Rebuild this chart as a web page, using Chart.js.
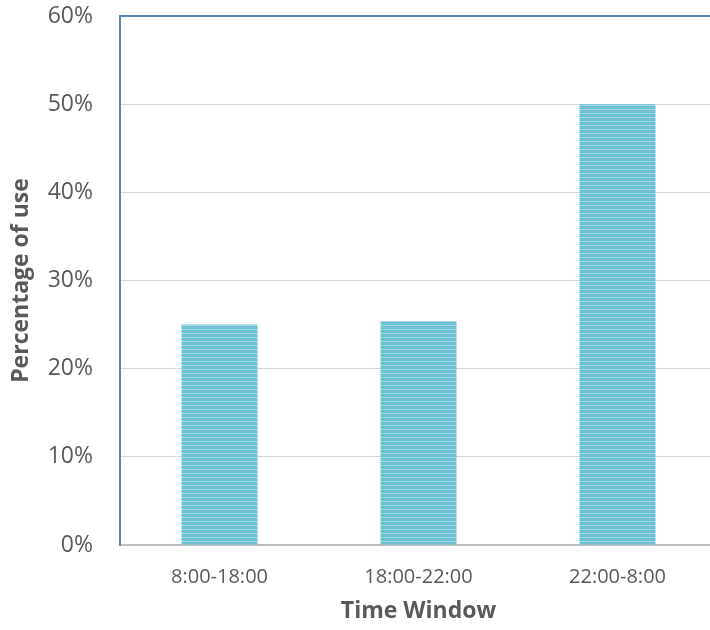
<!DOCTYPE html>
<html>
<head>
<meta charset="utf-8">
<script src="https://cdn.jsdelivr.net/npm/chart.js@4"></script>
<style>
  html, body { margin: 0; padding: 0; background: #fff; overflow: hidden; }
  #wrap { width: 717px; height: 630px; }
</style>
</head>
<body>
<div id="wrap"><canvas id="chart"></canvas></div>
<script>
const categories = ['8:00-18:00', '18:00-22:00', '22:00-8:00'];
const usage = [25, 25.4, 50];
const yTicks = [0, 10, 20, 30, 40, 50, 60];

// striped fill like the original bars
function stripes() {
  var c = document.createElement('canvas');
  c.width = 4; c.height = 4;
  var g = c.getContext('2d');
  g.fillStyle = '#5fc3d6'; g.fillRect(0, 0, 4, 4);
  g.fillStyle = '#a9d6e2'; g.fillRect(0, 1, 4, 1);
  g.fillStyle = '#82bcd0'; g.fillRect(0, 3, 4, 1);
  return g.createPattern(c, 'repeat');
}

var ctx = document.getElementById('chart').getContext('2d');
new Chart(ctx, {
  type: 'bar',
  data: {
    labels: categories,
    datasets: [{
      data: usage,
      backgroundColor: stripes(),
      borderWidth: 0,
      barPercentage: 0.382,
      categoryPercentage: 1
    }]
  },
  options: {
    responsive: true,
    maintainAspectRatio: false,
    animation: false,
    layout: { padding: 0 },
    plugins: { legend: { display: false }, tooltip: { enabled: false } },
    scales: {
      x: {
        afterFit: function(s) { s.height = 85; },
        grid: { display: false, drawTicks: false },
        border: { color: '#bfbfbf', width: 2 },
        ticks: { padding: 20, color: '#595959', font: { family: 'Open Sans', size: 20 } },
        title: {
          display: true, text: 'Time Window', color: '#595959',
          font: { family: 'Open Sans', size: 23, weight: 'bold' },
          padding: { top: 0, bottom: 5 }
        }
      },
      y: {
        min: 0, max: 60,
        afterFit: function(s) { s.width = 120; s.paddingTop = 16; },
        afterBuildTicks: function(s) { s.ticks = yTicks.map(function(v) { return { value: v }; }); },
        grid: {
          drawTicks: false,
          lineWidth: function(c) { return c.tick && c.tick.value === 60 ? 2 : 1; },
          color: function(c) { return c.tick && c.tick.value === 60 ? '#5a84b2' : '#d9d9d9'; }
        },
        border: { color: '#5a84b2', width: 2 },
        ticks: {
          padding: 27, color: '#595959',
          font: { family: 'Open Sans', size: 23 },
          callback: function(v) { return v + '%'; }
        },
        title: {
          display: true, text: 'Percentage of use', color: '#595959',
          font: { family: 'Open Sans', size: 23, weight: 'bold' },
          padding: { top: 8, bottom: 0 }
        }
      }
    }
  }
});
</script>
</body>
</html>
